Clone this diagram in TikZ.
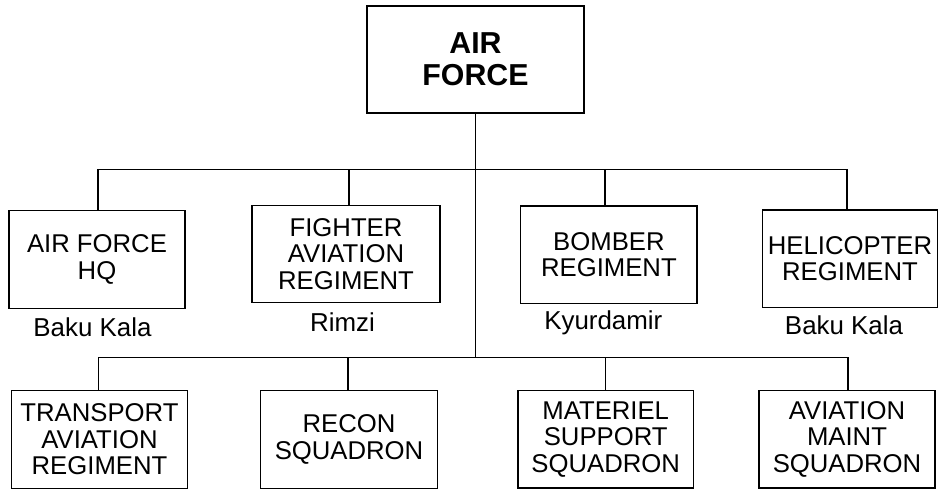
\documentclass[tikz,border=0pt]{standalone}
\usepackage{fontspec}
\setmainfont{Liberation Sans}
\begin{document}
\begin{tikzpicture}[x=1pt,y=-1pt,
  unitbox/.style={draw,line width=1.2pt,align=center,inner sep=0pt,
    font=\fontsize{25.7}{26.6}\selectfont},
  toptitle/.style={draw,line width=1.2pt,align=center,inner sep=0pt,
    font=\fontsize{30.3}{32}\selectfont\bfseries},
  place/.style={inner sep=0pt,font=\fontsize{25.9}{27}\selectfont},
  link/.style={line width=1.2pt}]
\useasboundingbox (0,0) rectangle (939,492);
\node[toptitle,minimum width=217pt,minimum height=107pt] (af) at (475.5,59.5) {AIR\\FORCE};
% upper row
\node[unitbox,minimum width=176pt,minimum height=97.6pt] (hq) at (97,259.5) {AIR FORCE\\HQ};
\node[unitbox,minimum width=188pt,minimum height=97pt] (fig) at (346,253.8) {FIGHTER\\AVIATION\\REGIMENT};
\node[unitbox,minimum width=176.3pt,minimum height=97.3pt] (bom) at (608.9,254.7) {BOMBER\\REGIMENT};
\node[unitbox,minimum width=175.4pt,minimum height=97.3pt] (hel) at (850,258.7) {HELICOPTER\\REGIMENT};
\node[place] (l1) at (92.5,327) {Baku Kala};
\node[place] (l2) at (342.5,321.7) {Rimzi};
\node[place] (l3) at (603.3,322.7) {Kyurdamir};
\node[place] (l4) at (844,325) {Baku Kala};
% lower row
\node[unitbox,minimum width=175.6pt,minimum height=97.6pt] (tra) at (99.5,439.5) {TRANSPORT\\AVIATION\\REGIMENT};
\node[unitbox,minimum width=176.3pt,minimum height=98pt] (rec) at (349,439.7) {RECON\\SQUADRON};
\node[unitbox,minimum width=175.3pt,minimum height=97.3pt] (mat) at (605.7,439.3) {MATERIEL\\SUPPORT\\SQUADRON};
\node[unitbox,minimum width=176pt,minimum height=97.3pt] (mnt) at (847,439.3) {AVIATION\\MAINT\\SQUADRON};
% buses
\coordinate (ub) at (473,169.3);
\coordinate (lb) at (473,357.3);
\draw[link] (af.south) -- (af.south |- lb);
\draw[link] ([xshift=1pt]hq.north) -- ([xshift=1pt]hq.north |- ub) -- ([xshift=-3pt]hel.north |- ub) -- ([xshift=-3pt]hel.north);
\draw[link] ([xshift=3pt]fig.north) -- ([xshift=3pt]fig.north |- ub);
\draw[link] ([xshift=-4pt]bom.north) -- ([xshift=-4pt]bom.north |- ub);
\draw[link] ([xshift=-1pt]tra.north) -- ([xshift=-1pt]tra.north |- lb) -- ([xshift=1pt]mnt.north |- lb) -- ([xshift=1pt]mnt.north);
\draw[link] ([xshift=-1pt]rec.north) -- ([xshift=-1pt]rec.north |- lb);
\draw[link] (mat.north) -- (mat.north |- lb);
\end{tikzpicture}
\end{document}
